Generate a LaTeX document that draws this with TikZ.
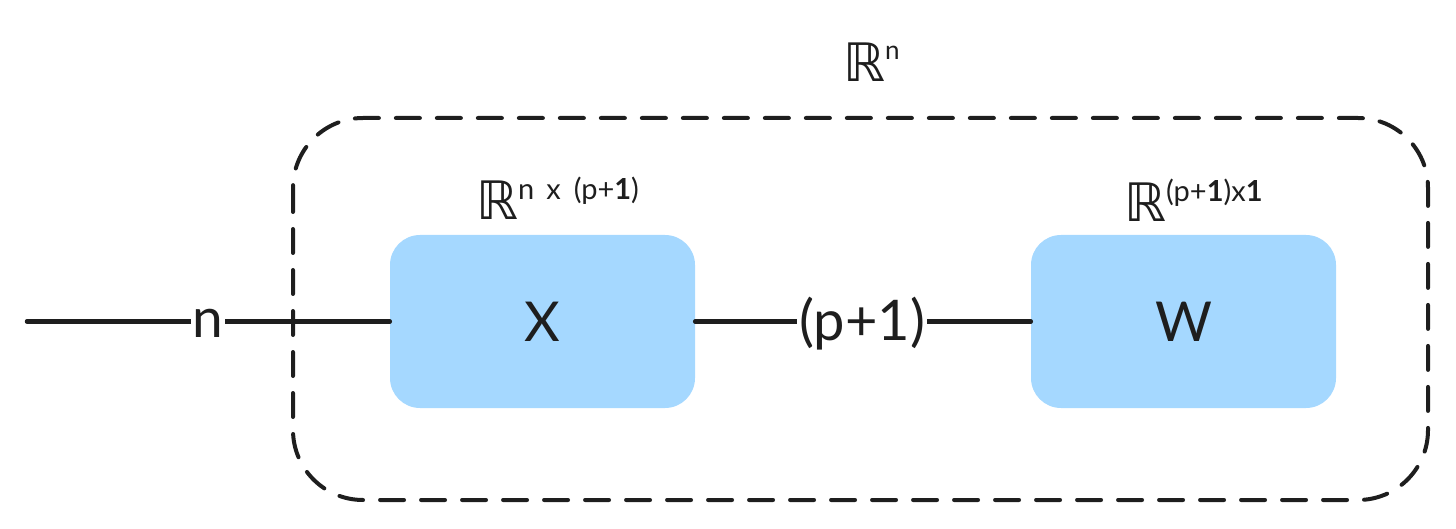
\documentclass[tikz,border=0pt]{standalone}
\usepackage{fontspec}
\setmainfont{Lato}
\newfontfamily\rfont{DejaVu Sans}
\definecolor{ink}{HTML}{1E1E1E}
\definecolor{boxblue}{HTML}{A5D8FF}
\begin{document}
\begin{tikzpicture}[x=1pt,y=-1pt,
  bluebox/.style={fill=boxblue,draw=none,rounded corners=30pt,minimum width=305pt,minimum height=173pt,
    font=\fontsize{55}{60}\selectfont,text=ink,inner sep=0pt},
  wire/.style={draw=ink,line width=4.5pt,line cap=round},
  wirelabel/.style={fill=white,text=ink,inner sep=2pt},
  frame/.style={draw=ink,line width=4pt,line cap=round,dash pattern=on 24pt off 17pt,rounded corners=70pt},
  setlabel/.style={text=ink,anchor=base west,inner sep=0pt}
]
\useasboundingbox (0,0) rectangle (1456,529);
% container
\draw[frame] (293,118) rectangle (1428,500);
% boxes
\node[bluebox] (X) at (542.5,321.5) {X};
\node[bluebox] (W) at (1183.5,321.5) {W};
% input
\coordinate (in) at (27,321.5);
\draw[wire] (in) -- (X.west);
\node[wirelabel,font=\fontsize{55}{60}\selectfont] (nlab) at (208,323) {n};
% middle
\draw[wire] (X.east) -- (W.west);
\node[wirelabel,font=\fontsize{56}{60}\selectfont] (plab) at (862,324) {(p+1)};
% set labels
\node[setlabel] (Rtop) at (843,82) {{\rfont\fontsize{53}{60}\selectfont ℝ}\raisebox{22pt}{\fontsize{26}{26}\selectfont n}};
\node[setlabel] (RX) at (476,220) {{\rfont\fontsize{53}{60}\selectfont ℝ}\raisebox{20pt}{\fontsize{29}{29}\selectfont n\hspace{12pt}x\hspace{13pt}(p+\textbf{1})}};
\node[setlabel] (RW) at (1124,222) {{\rfont\fontsize{53}{60}\selectfont ℝ}\raisebox{20pt}{\fontsize{29}{29}\selectfont (p+\textbf{1})x\textbf{1}}};
\end{tikzpicture}
\end{document}
